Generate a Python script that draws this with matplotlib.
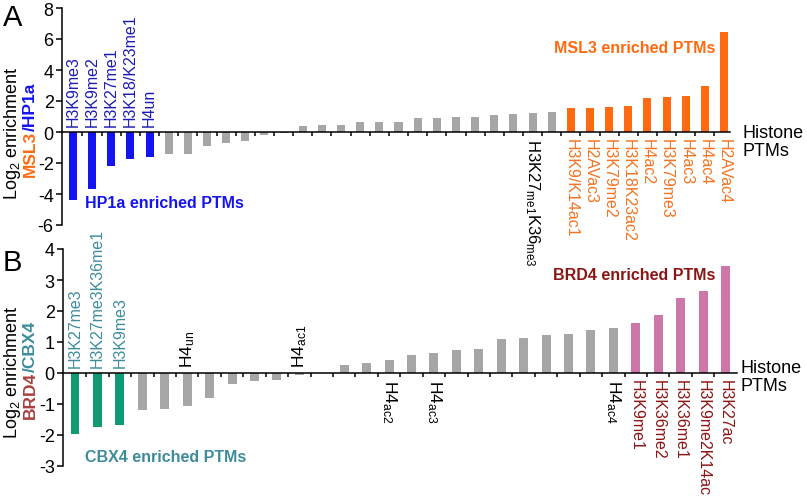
import matplotlib
matplotlib.use("Agg")
import matplotlib.pyplot as plt
import numpy as np

plt.rcParams["font.family"] = ["Liberation Sans", "DejaVu Sans"]
plt.rcParams["mathtext.default"] = "regular"
plt.rcParams["axes.unicode_minus"] = False

# colours
blue = "#1414f0"
blue_txt = "#1c1cb4"
orange = "#ff6a10"
orange_txt = "#f47320"
grey = "#a6a6a6"
green = "#109a74"
teal_txt = "#3d8c9c"
pink = "#cc77a8"
darkred = "#8c1414"
brd4_txt = "#a8403c"

# Panel A: MSL3 / HP1a
a_values = [-4.41, -3.70, -2.19, -1.76, -1.59,
            -1.44, -1.44, -0.92, -0.69, -0.60, -0.17, -0.05, 0.41, 0.47, 0.47,
            0.65, 0.65, 0.65, 0.90, 0.90, 0.99, 0.99, 1.08, 1.16, 1.25, 1.31,
            1.53, 1.55, 1.61, 1.70, 2.21, 2.26, 2.32, 2.99, 6.45]
a_low_labels = ["H3K9me3", "H3K9me2", "H3K27me1", "H3K18/K23me1", "H4un"]
a_high_labels = ["H3K9/K14ac1", "H2AVac3", "H3K79me2", "H3K18K23ac2", "H4ac2",
                 "H3K79me3", "H4ac3", "H4ac4", "H2AVac4"]
a_mid_labels = {24: "H3K27$_{me1}$K36$_{me3}$"}

# Panel B: BRD4 / CBX4
b_values = [-1.96, -1.74, -1.69,
            -1.18, -1.15, -1.05, -0.80, -0.34, -0.27, -0.22, -0.08, 0.01, 0.25,
            0.32, 0.41, 0.58, 0.66, 0.74, 0.78, 1.09, 1.13, 1.22, 1.25, 1.38, 1.46,
            1.62, 1.86, 2.43, 2.63, 3.44]
b_low_labels = ["H3K27me3", "H3K27me3K36me1", "H3K9me3"]
b_high_labels = ["H3K9me1", "H3K36me2", "H3K36me1", "H3K9me2K14ac", "H3K27ac"]
b_mid_above = {5: "H4$_{un}$", 10: "H4$_{ac1}$"}
b_mid_below = {14: "H4$_{ac2}$", 16: "H4$_{ac3}$", 24: "H4$_{ac4}$"}

W, H = 807, 502
fig = plt.figure(figsize=(W / 100, H / 100), dpi=100)


def px_axes(left, right, top, bottom):
    ax = fig.add_axes([left / W, 1 - bottom / H, (right - left) / W, (bottom - top) / H])
    ax.patch.set_visible(False)  # so labels from the other panel are not hidden
    return ax


def style(ax, n, ylim, yticks, xlim):
    ax.set_xlim(*xlim)
    ax.set_ylim(*ylim)
    ax.set_yticks(yticks)
    ax.spines["top"].set_visible(False)
    ax.spines["right"].set_visible(False)
    ax.spines["bottom"].set_position(("data", 0))
    for s in ("left", "bottom"):
        ax.spines[s].set_linewidth(1.1)
    ax.set_xticks(np.arange(0.5, n - 1, 1))
    ax.set_xticklabels([])
    ax.tick_params(axis="x", direction="out", length=3, width=1.1)
    ax.tick_params(axis="y", direction="out", length=4, width=1.1, labelsize=13, pad=2)


def label(ax, i, text, color, above, size=11.5):
    if above:
        ax.annotate(text, (i, 0), xytext=(0, 4), textcoords="offset points",
                    rotation=90, ha="center", va="bottom", color=color, fontsize=size)
    else:
        ax.annotate(text, (i, 0), xytext=(0, -4), textcoords="offset points",
                    rotation=270, ha="center", va="top", color=color, fontsize=size)


# ---- panel A
axA = px_axes(62, 730, 9, 226)
nA = len(a_values)
xA = np.arange(nA)
colA = [blue] * len(a_low_labels) + [grey] * (nA - len(a_low_labels) - len(a_high_labels)) + [orange] * len(a_high_labels)
axA.bar(xA, a_values, width=0.42, color=colA)
style(axA, nA, (-6, 8), np.arange(-6, 9, 2), (-0.57, 34.31))
for i, t in enumerate(a_low_labels):
    label(axA, i, t, blue_txt, True)
for k, t in enumerate(a_high_labels):
    label(axA, nA - len(a_high_labels) + k, t, orange_txt, False)
for i, t in a_mid_labels.items():
    label(axA, i, t, "black", False, size=12)
axA.text(0.63, -4.52, "HP1a enriched PTMs", color=blue, fontsize=11.5,
         fontweight="bold", va="center", ha="left")
axA.text(25.1, 5.48, "MSL3 enriched PTMs", color=orange, fontsize=11.5,
         fontweight="bold", va="center", ha="left")

# ---- panel B
axB = px_axes(63, 737, 250, 467)
nB = len(b_values)
xB = np.arange(nB)
colB = [green] * len(b_low_labels) + [grey] * (nB - len(b_low_labels) - len(b_high_labels)) + [pink] * len(b_high_labels)
axB.bar(xB, b_values, width=0.4, color=colB)
style(axB, nB, (-3, 4), np.arange(-3, 5, 1), (-0.535, 29.51))
for i, t in enumerate(b_low_labels):
    label(axB, i, t, teal_txt, True)
for k, t in enumerate(b_high_labels):
    label(axB, nB - len(b_high_labels) + k, t, darkred, False)
for i, t in b_mid_above.items():
    label(axB, i, t, "black", True, size=12.5)
for i, t in b_mid_below.items():
    label(axB, i, t, "black", False, size=12.5)
axB.text(0.45, -2.68, "CBX4 enriched PTMs", color=teal_txt, fontsize=11.5,
         fontweight="bold", va="center", ha="left")
axB.text(21.3, 3.19, "BRD4 enriched PTMs", color=darkred, fontsize=11.5,
         fontweight="bold", va="center", ha="left")

# ---- axis titles, panel letters
fig.text(742 / W, 1 - 142.5 / H, "Histone\nPTMs", fontsize=13, ha="left", va="center", linespacing=1.15)
fig.text(740 / W, 1 - 377.5 / H, "Histone\nPTMs", fontsize=13, ha="left", va="center", linespacing=1.15)

fig.text(13 / W, 1 - 133 / H, "Log$_2$ enrichment", rotation=90, fontsize=13, ha="center", va="center")
fig.text(30 / W, 1 - 131 / H, "MSL3", rotation=90, fontsize=12.5, fontweight="bold",
         color=orange, ha="center", va="top")
fig.text(30 / W, 1 - 131 / H, "/HP1a", rotation=90, fontsize=12.5, fontweight="bold",
         color=blue, ha="center", va="bottom")

fig.text(13 / W, 1 - 372 / H, "Log$_2$ enrichment", rotation=90, fontsize=13, ha="center", va="center")
fig.text(30 / W, 1 - 372 / H, "BRD4", rotation=90, fontsize=12.5, fontweight="bold",
         color=brd4_txt, ha="center", va="top")
fig.text(30 / W, 1 - 372 / H, "/CBX4", rotation=90, fontsize=12.5, fontweight="bold",
         color=teal_txt, ha="center", va="bottom")

fig.text(3 / W, 1 - 18 / H, "A", fontsize=21, ha="left", va="center")
fig.text(3 / W, 1 - 263 / H, "B", fontsize=21, ha="left", va="center")

fig.savefig("out.png", dpi=100)
